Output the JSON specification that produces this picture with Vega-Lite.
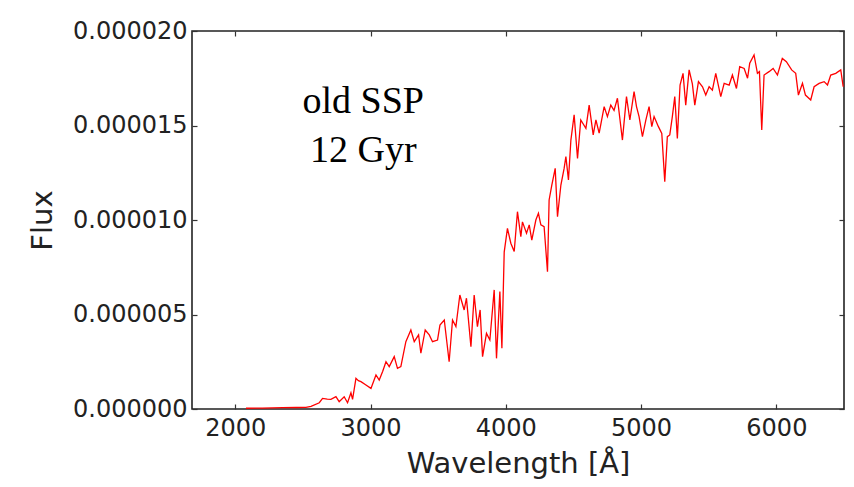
{
  "$schema": "https://vega.github.io/schema/vega-lite/v6.json",
  "autosize": "none",
  "width": 652,
  "height": 378,
  "padding": {"left": 192, "top": 31, "right": 10, "bottom": 78},
  "background": "white",
  "config": {
    "view": {"stroke": "#222", "strokeWidth": 1.6},
    "axis": {
      "labelFont": "DejaVu Sans",
      "labelFontSize": 24,
      "labelColor": "#222",
      "titleFont": "DejaVu Sans",
      "titleFontSize": 29,
      "titleFontWeight": "normal",
      "titleColor": "#222",
      "domain": false,
      "grid": false,
      "tickColor": "#333",
      "tickSize": -5,
      "tickWidth": 1.2
    }
  },
  "datasets": {
    "spec": [
      {"w": 2079, "f": 0.04e-6}, {"w": 2200, "f": 0.05e-6}, {"w": 2350, "f": 0.07e-6}, {"w": 2450, "f": 0.08e-6},
      {"w": 2522, "f": 0.09e-6}, {"w": 2560, "f": 0.14e-6}, {"w": 2621, "f": 0.33e-6}, {"w": 2645, "f": 0.56e-6},
      {"w": 2680, "f": 0.52e-6}, {"w": 2707, "f": 0.51e-6}, {"w": 2744, "f": 0.65e-6}, {"w": 2768, "f": 0.39e-6},
      {"w": 2805, "f": 0.65e-6}, {"w": 2830, "f": 0.33e-6}, {"w": 2855, "f": 0.86e-6}, {"w": 2867, "f": 0.51e-6},
      {"w": 2892, "f": 1.62e-6}, {"w": 2910, "f": 1.5e-6}, {"w": 2929, "f": 1.45e-6}, {"w": 2966, "f": 1.27e-6},
      {"w": 3003, "f": 1.09e-6}, {"w": 3040, "f": 1.8e-6}, {"w": 3064, "f": 1.53e-6}, {"w": 3090, "f": 2.0e-6},
      {"w": 3114, "f": 2.5e-6}, {"w": 3138, "f": 2.24e-6}, {"w": 3175, "f": 2.77e-6}, {"w": 3199, "f": 2.15e-6},
      {"w": 3224, "f": 2.24e-6}, {"w": 3261, "f": 3.56e-6}, {"w": 3298, "f": 4.18e-6}, {"w": 3323, "f": 3.56e-6},
      {"w": 3355, "f": 3.92e-6}, {"w": 3372, "f": 2.95e-6}, {"w": 3404, "f": 4.18e-6}, {"w": 3434, "f": 3.92e-6},
      {"w": 3458, "f": 3.56e-6}, {"w": 3495, "f": 3.65e-6}, {"w": 3513, "f": 4.44e-6}, {"w": 3545, "f": 4.71e-6},
      {"w": 3581, "f": 2.5e-6}, {"w": 3606, "f": 4.71e-6}, {"w": 3631, "f": 4.36e-6}, {"w": 3660, "f": 6.03e-6},
      {"w": 3692, "f": 5.24e-6}, {"w": 3709, "f": 5.86e-6}, {"w": 3742, "f": 3.3e-6}, {"w": 3766, "f": 6.03e-6},
      {"w": 3790, "f": 4.36e-6}, {"w": 3810, "f": 5.24e-6}, {"w": 3828, "f": 2.77e-6}, {"w": 3857, "f": 4.0e-6},
      {"w": 3882, "f": 3.65e-6}, {"w": 3914, "f": 6.3e-6}, {"w": 3931, "f": 2.68e-6}, {"w": 3956, "f": 6.21e-6},
      {"w": 3971, "f": 3.21e-6}, {"w": 3988, "f": 8.3e-6}, {"w": 4012, "f": 9.56e-6}, {"w": 4037, "f": 8.77e-6},
      {"w": 4062, "f": 8.33e-6}, {"w": 4086, "f": 10.44e-6}, {"w": 4111, "f": 9.12e-6}, {"w": 4123, "f": 9.9e-6},
      {"w": 4153, "f": 9.3e-6}, {"w": 4173, "f": 9.74e-6}, {"w": 4192, "f": 8.94e-6}, {"w": 4222, "f": 10.0e-6},
      {"w": 4241, "f": 10.35e-6}, {"w": 4259, "f": 9.74e-6}, {"w": 4283, "f": 9.65e-6}, {"w": 4308, "f": 7.26e-6},
      {"w": 4320, "f": 11.06e-6}, {"w": 4340, "f": 11.85e-6}, {"w": 4365, "f": 12.73e-6}, {"w": 4382, "f": 10.17e-6},
      {"w": 4407, "f": 11.85e-6}, {"w": 4431, "f": 12.73e-6}, {"w": 4444, "f": 13.35e-6}, {"w": 4463, "f": 12.12e-6},
      {"w": 4481, "f": 14.23e-6}, {"w": 4505, "f": 15.56e-6}, {"w": 4530, "f": 13.26e-6}, {"w": 4554, "f": 15.29e-6},
      {"w": 4592, "f": 14.85e-6}, {"w": 4616, "f": 16.08e-6}, {"w": 4646, "f": 14.5e-6}, {"w": 4666, "f": 15.3e-6},
      {"w": 4690, "f": 14.6e-6}, {"w": 4727, "f": 16.0e-6}, {"w": 4751, "f": 15.47e-6}, {"w": 4776, "f": 16.08e-6},
      {"w": 4800, "f": 15.8e-6}, {"w": 4825, "f": 16.44e-6}, {"w": 4862, "f": 14.23e-6}, {"w": 4892, "f": 16.53e-6},
      {"w": 4917, "f": 15.29e-6}, {"w": 4948, "f": 16.79e-6}, {"w": 4966, "f": 16.0e-6}, {"w": 4985, "f": 15.47e-6},
      {"w": 5010, "f": 14.41e-6}, {"w": 5035, "f": 15.29e-6}, {"w": 5059, "f": 16.0e-6}, {"w": 5079, "f": 14.94e-6},
      {"w": 5096, "f": 15.47e-6}, {"w": 5128, "f": 14.94e-6}, {"w": 5153, "f": 14.58e-6}, {"w": 5175, "f": 12.03e-6},
      {"w": 5194, "f": 14.41e-6}, {"w": 5212, "f": 14.5e-6}, {"w": 5231, "f": 15.47e-6}, {"w": 5249, "f": 16.53e-6},
      {"w": 5268, "f": 14.32e-6}, {"w": 5288, "f": 17.14e-6}, {"w": 5310, "f": 17.76e-6}, {"w": 5330, "f": 16.08e-6},
      {"w": 5355, "f": 17.94e-6}, {"w": 5379, "f": 17.2e-6}, {"w": 5397, "f": 16.08e-6}, {"w": 5424, "f": 17.32e-6},
      {"w": 5454, "f": 17.05e-6}, {"w": 5478, "f": 16.61e-6}, {"w": 5503, "f": 17.05e-6}, {"w": 5527, "f": 16.87e-6},
      {"w": 5552, "f": 17.76e-6}, {"w": 5589, "f": 16.53e-6}, {"w": 5614, "f": 17.23e-6}, {"w": 5651, "f": 17.14e-6},
      {"w": 5675, "f": 17.67e-6}, {"w": 5705, "f": 16.96e-6}, {"w": 5729, "f": 18.11e-6}, {"w": 5762, "f": 18.02e-6},
      {"w": 5787, "f": 17.5e-6}, {"w": 5803, "f": 18.29e-6}, {"w": 5835, "f": 18.73e-6}, {"w": 5860, "f": 17.76e-6},
      {"w": 5875, "f": 17.85e-6}, {"w": 5892, "f": 14.76e-6}, {"w": 5909, "f": 17.67e-6}, {"w": 5946, "f": 17.85e-6},
      {"w": 5976, "f": 18.02e-6}, {"w": 6008, "f": 17.67e-6}, {"w": 6044, "f": 18.55e-6}, {"w": 6074, "f": 18.38e-6},
      {"w": 6113, "f": 17.94e-6}, {"w": 6143, "f": 17.76e-6}, {"w": 6163, "f": 16.61e-6}, {"w": 6193, "f": 17.23e-6},
      {"w": 6215, "f": 16.61e-6}, {"w": 6254, "f": 16.35e-6}, {"w": 6279, "f": 17.05e-6}, {"w": 6316, "f": 17.23e-6},
      {"w": 6353, "f": 17.32e-6}, {"w": 6378, "f": 17.14e-6}, {"w": 6402, "f": 17.67e-6}, {"w": 6439, "f": 17.76e-6},
      {"w": 6476, "f": 17.94e-6}, {"w": 6494, "f": 17.05e-6}
    ]
  },
  "data": {"name": "spec"},
  "layer": [
    {
      "layer": [
        {
          "mark": {"type": "line", "color": "#ff0000", "strokeWidth": 1.3, "clip": true},
          "encoding": {
            "x": {
              "field": "w", "type": "quantitative",
              "scale": {"domain": [1680, 6500], "nice": false, "zero": false},
              "axis": {"values": [2000, 3000, 4000, 5000, 6000], "format": "d", "title": "Wavelength [Å]", "labelPadding": 12, "titlePadding": 9, "labelFlush": false}
            },
            "y": {
              "field": "f", "type": "quantitative",
              "scale": {"domain": [0, 0.00002], "nice": false},
              "axis": {"values": [0, 0.000005, 0.00001, 0.000015, 0.00002], "format": ".6f", "title": "Flux", "labelPadding": 10, "titlePadding": 15, "labelFlush": false}
            }
          }
        },
        {
          "data": {"values": [{"label": "old SSP 12 Gyr"}]},
          "mark": {"type": "text", "font": "Liberation Serif", "fontSize": 38, "color": "#000", "align": "center", "baseline": "alphabetic", "lineHeight": 49},
          "encoding": {
            "x": {"datum": 2946, "type": "quantitative",
              "axis": {"values": [2000, 3000, 4000, 5000, 6000], "format": "d", "title": "Wavelength [Å]", "labelPadding": 12, "titlePadding": 9, "labelFlush": false}},
            "y": {"datum": 0.00001566, "type": "quantitative",
              "axis": {"values": [0, 0.000005, 0.00001, 0.000015, 0.00002], "format": ".6f", "title": "Flux", "labelPadding": 10, "titlePadding": 15, "labelFlush": false}},
            "text": {"value": ["old SSP", "12 Gyr"]}
          }
        }
      ]
    },
    {
      "mark": {"type": "line", "strokeOpacity": 0},
      "encoding": {
        "x": {
          "field": "w", "type": "quantitative",
          "axis": {"orient": "top", "values": [2000, 3000, 4000, 5000, 6000], "labels": false, "title": null}
        },
        "y": {
          "field": "f", "type": "quantitative",
          "axis": {"orient": "right", "values": [0, 0.000005, 0.00001, 0.000015, 0.00002], "labels": false, "title": null}
        }
      }
    }
  ],
  "resolve": {"axis": {"x": "independent", "y": "independent"}}
}
